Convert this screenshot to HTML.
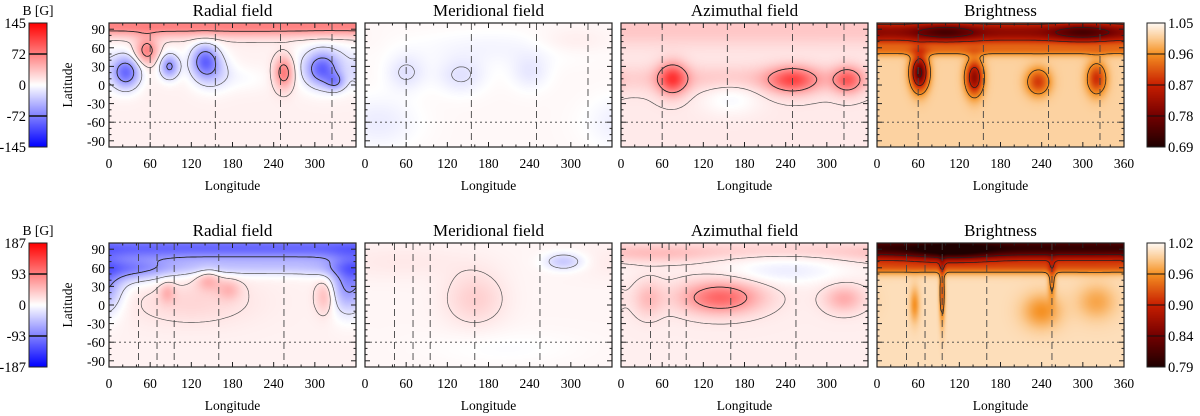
<!DOCTYPE html>
<html><head><meta charset="utf-8">
<style>
html,body{margin:0;padding:0;background:#fff;}
#wrap{position:relative;width:1200px;height:416px;overflow:hidden;font-family:"Liberation Serif",serif;}
canvas{position:absolute;}
svg{position:absolute;left:0;top:0;}
</style></head>
<body>
<div id="wrap">
<svg id="ov" width="1200" height="416"></svg>
</div>
<script>
// ===== data =====
const titles = ["Radial field","Meridional field","Azimuthal field","Brightness"];
const xTicks = [0,60,120,180,240,300,360];
const yTicks = [90,60,30,0,-30,-60,-90];
const cbTop = ["145","72","0","-72","-145"];
const cbBot = ["187","93","0","-93","-187"];
const cbTopR = ["1.05","0.96","0.87","0.78","0.69"];
const cbBotR = ["1.02","0.96","0.90","0.84","0.79"];
const phasesTop = [60,155,250,325];
const phasesBot = [43,70,95,160,255];
const rangeB = [145,187];
const rangeI = [[0.69,1.05],[0.79,1.02]];
const bgTop = [10,5,15,1.012];
const bgBot = [12,8,15,1.003];
// blobs: [lon, lat, rx, ry, amplitude]
const radialTop = [[180,95,1000,12,80],[55,55,12,15,80],[25,20,14,18,-110],[88,30,10,14,-90],[140,40,14,18,-100],[150,20,20,20,-40],[255,20,10,18,90],[310,25,15,18,-85],[330,5,10,10,-60],[320,30,35,25,-40],[200,10,25,15,-10]];
const meridTop = [[60,20,20,20,-25],[140,15,25,20,-25],[240,20,20,20,-20],[200,60,100,20,-12],[20,-60,40,30,-18],[300,70,40,15,12]];
const azimTop = [[75,10,15,18,110],[250,8,25,15,95],[330,8,15,15,85],[180,10,200,15,25],[180,90,1000,20,25],[160,-20,30,20,-20]];
const brightTop = [[180,85,1000,15,-0.2],[100,85,30,10,-0.08],[300,85,30,10,-0.08],[180,55,1000,6,-0.05],[62,20,9,20,-0.25],[142,12,9,20,-0.2],[235,5,12,15,-0.12],[320,10,10,18,-0.13]];
const radialBot = [[180,92,1000,15,-150],[180,60,1000,10,-50],[30,55,40,15,-70],[350,30,20,30,-110],[145,40,12,12,55],[175,25,12,12,45],[85,20,8,12,45],[315,15,10,20,60],[120,5,60,25,25]];
const meridBot = [[160,10,30,30,35],[290,70,20,10,-60],[50,70,80,20,12],[200,-70,80,20,-10]];
const azimBot = [[145,12,40,18,125],[325,10,20,15,60],[40,10,15,20,45],[240,55,60,15,-30],[180,88,1000,10,25],[50,80,60,10,25]];
const brightBot = [[180,92,1000,15,-0.2],[110,85,40,10,-0.05],[180,60,1000,8,-0.05],[95,20,3,35,-0.07],[255,40,4,20,-0.05],[240,-10,20,20,-0.04],[55,0,5,20,-0.04],[320,5,20,20,-0.03]];

// ===== layout =====
const PX=[109,365,621,877], PW=247, PH=124, PY=[23,243];
const NS="http://www.w3.org/2000/svg";
const ov=document.getElementById('ov');
const wrap=document.getElementById('wrap');
function mk(tag,attrs,parent){const e=document.createElementNS(NS,tag);for(const k in attrs)e.setAttribute(k,attrs[k]);(parent||ov).appendChild(e);return e;}
const xs=(px,lon)=>px+lon/360*PW;
const ys=(py,lat)=>py+(100-lat)/200*PH;

function field(bg,blobs,lon,lat){
  let v=bg;
  for(const b of blobs){
    let d=Math.abs(lon-b[0]); if(d>180)d=360-d;
    const dy=lat-b[1];
    v+=b[4]*Math.exp(-0.5*((d/b[2])**2+(dy/b[3])**2));
  }
  return v;
}
function bwr(t,sat){t=Math.max(-1,Math.min(1,t))*sat;
  if(t>=0)return [255,255*(1-t),255*(1-t)];
  return [255*(1+t),255*(1+t),255];}
const hotStops=[[0,[30,0,0]],[0.25,[115,0,0]],[0.5,[200,30,0]],[0.75,[245,145,35]],[0.88,[252,205,150]],[1,[255,250,245]]];
function hot(t){t=Math.max(0,Math.min(1,t));
  for(let i=1;i<hotStops.length;i++){if(t<=hotStops[i][0]){const a=hotStops[i-1],b=hotStops[i];const f=(t-a[0])/(b[0]-a[0]);return a[1].map((c,j)=>c+(b[1][j]-c)*f);}}
  return hotStops[hotStops.length-1][1];}

function contours(bg,blobs,level,px,py,color,w,g){
  const st=3, nx=120, ny=Math.round(200/st);
  const val=[];
  for(let j=0;j<=ny;j++){val[j]=[];for(let i=0;i<=nx;i++)val[j][i]=field(bg,blobs,i*st,-100+j*st)-level;}
  let d="";
  for(let j=0;j<ny;j++)for(let i=0;i<nx;i++){
    const c=[[i,j],[i+1,j],[i+1,j+1],[i,j+1]];
    const pts=[];
    for(let k=0;k<4;k++){const a=c[k],b=c[(k+1)%4];const va=val[a[1]][a[0]],vb=val[b[1]][b[0]];
      if((va<0)!==(vb<0)){const f=va/(va-vb);pts.push([(a[0]+(b[0]-a[0])*f)*st,-100+(a[1]+(b[1]-a[1])*f)*st]);}}
    for(let k=0;k+1<pts.length;k+=2){
      d+="M"+xs(px,pts[k][0]).toFixed(1)+" "+ys(py,pts[k][1]).toFixed(1)+"L"+xs(px,pts[k+1][0]).toFixed(1)+" "+ys(py,pts[k+1][1]).toFixed(1);}
  }
  const p=mk('path',{d:d,stroke:color,'stroke-width':w,fill:'none'},g);
  
  
}

function panel(row,col,bg,blobs,phases){
  const px=PX[col], py=PY[row];
  const cv=document.createElement('canvas');
  cv.width=PW;cv.height=PH;cv.style.left=px+'px';cv.style.top=py+'px';
  
  
  wrap.insertBefore(cv,ov);
  const ctx=cv.getContext('2d');const img=ctx.createImageData(PW,PH);
  const isB=col<3;
  for(let y=0;y<PH;y++)for(let x=0;x<PW;x++){
    const lon=(x+0.5)/PW*360, lat=100-(y+0.5)/PH*200;
    const v=field(bg,blobs,lon,lat);
    const c=isB?bwr(v/rangeB[row],0.8):hot((v-rangeI[row][0])/(rangeI[row][1]-rangeI[row][0]));
    const o=(y*PW+x)*4;img.data[o]=c[0];img.data[o+1]=c[1];img.data[o+2]=c[2];img.data[o+3]=255;}
  ctx.putImageData(img,0,0);
  const g=mk('g',{});
  
  
  const cp=mk('clipPath',{id:'cp'+row+col},g);
  mk('rect',{x:px,y:py,width:PW,height:PH},cp);
  const cg=mk('g',{'clip-path':'url(#cp'+row+col+')'},g);
  let levels;
  if(isB){const r=rangeB[row];levels=[[-r*0.5,'#222',0.9],[r*0.5,'#222',0.9],[-r*0.12,'#555',0.7],[r*0.12,'#555',0.7]];}
  else {const a=rangeI[row][0],b=rangeI[row][1],s=(b-a)/4;levels=[[a+3*s,'#222',0.8],[a+2*s,'#222',0.8],[a+1*s,'#222',0.8]];}
  for(const L of levels)contours(bg,blobs,L[0],px,py,L[1],L[2],cg);
  for(const p of phases){const l=mk('line',{x1:xs(px,p),x2:xs(px,p),y1:py,y2:py+PH,stroke:'#444','stroke-width':0.9,'stroke-dasharray':'7,4'},g);
    }
  const hl=mk('line',{x1:px,x2:px+PW,y1:ys(py,-60),y2:ys(py,-60),stroke:'#444','stroke-width':0.8,'stroke-dasharray':'2,3'},g);
  
  mk('rect',{x:px,y:py,width:PW,height:PH,fill:'none',stroke:'#222','stroke-width':1.2},g);
  for(let lon=0;lon<=360;lon+=20){const X=xs(px,lon);const len=lon%60===0?5:2.5;
    mk('line',{x1:X,x2:X,y1:py+PH,y2:py+PH-len,stroke:'#222'},g);mk('line',{x1:X,x2:X,y1:py,y2:py+len,stroke:'#222'},g);}
  for(let lat=-90;lat<=90;lat+=10){const Y=ys(py,lat);const len=lat%30===0?5:2.5;
    mk('line',{x1:px,x2:px+len,y1:Y,y2:Y,stroke:'#222'},g);mk('line',{x1:px+PW,x2:px+PW-len,y1:Y,y2:Y,stroke:'#222'},g);}
  const t=mk('text',{x:px+PW/2,y:py-7,'text-anchor':'middle','font-size':17},g);t.textContent=titles[col];
  
  for(const v of xTicks){if(v===360&&col<3)continue;
    const tt=mk('text',{x:xs(px,v),y:py+PH+21,'text-anchor':'middle','font-size':13.5},g);tt.textContent=v;
    }
  const xl=mk('text',{x:px+PW/2,y:py+PH+43,'text-anchor':'middle','font-size':13.5},g);xl.textContent='Longitude';
  
  if(col===0){
    for(const v of yTicks){const tt=mk('text',{x:px-4,y:ys(py,v)+5,'text-anchor':'end','font-size':13.5},g);tt.textContent=v;
      }
    const yl=mk('text',{x:0,y:0,'text-anchor':'middle','font-size':13.5,transform:'translate(72,'+(py+PH/2)+') rotate(-90)'},g);yl.textContent='Latitude';
    
  }
}
function colorbar(row,x,isB,labels,right){
  const py=PY[row],w=18;
  const cv=document.createElement('canvas');cv.width=w;cv.height=PH;cv.style.left=x+'px';cv.style.top=py+'px';
  
  
  wrap.insertBefore(cv,ov);
  const ctx=cv.getContext('2d');
  for(let y=0;y<PH;y++){const f=1-(y+0.5)/PH;const c=isB?bwr(f*2-1,1):hot(f);
    ctx.fillStyle='rgb('+c.map(Math.round).join(',')+')';ctx.fillRect(0,y,w,1);}
  const g=mk('g',{});
  
  
  mk('rect',{x:x,y:py,width:w,height:PH,fill:'none',stroke:'#222'},g);
  labels.forEach((s,i)=>{const Y=py+i*PH/4;
    if(isB&&(i===1||i===3))mk('line',{x1:x,x2:x+w,y1:Y,y2:Y,stroke:'#111','stroke-width':1.5},g);
    if(!isB&&i>0&&i<4)mk('line',{x1:x,x2:x+w,y1:Y,y2:Y,stroke:'#111','stroke-width':1},g);
    const tt=mk('text',{x:right?x+w+3:x-3,y:Y+5,'text-anchor':right?'start':'end','font-size':14.5},g);tt.textContent=s;
    });
  if(isB){const t=mk('text',{x:x+9,y:py-8,'text-anchor':'middle','font-size':13.5},g);t.textContent='B [G]';
    }
}
const topData=[radialTop,meridTop,azimTop,brightTop], botData=[radialBot,meridBot,azimBot,brightBot];
for(let c=0;c<4;c++){panel(0,c,bgTop[c],topData[c],phasesTop);panel(1,c,bgBot[c],botData[c],phasesBot);}
colorbar(0,29,true,cbTop,false);colorbar(1,29,true,cbBot,false);
colorbar(0,1147,false,cbTopR,true);colorbar(1,1147,false,cbBotR,true);
</script>
</body></html>
